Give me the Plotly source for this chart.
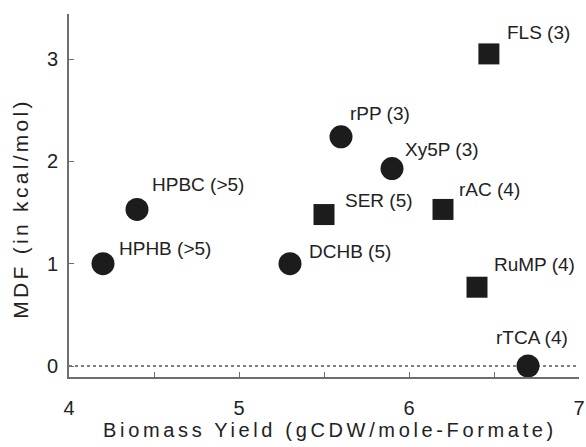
import plotly.graph_objects as go

# ---- data ----
circle_names = ["HPHB (>5)", "HPBC (>5)", "DCHB (5)", "rPP (3)", "Xy5P (3)", "rTCA (4)"]
circle_yield = [4.2, 4.4, 5.3, 5.6, 5.9, 6.7]
circle_mdf = [1.0, 1.53, 1.0, 2.24, 1.93, 0.0]

square_names = ["SER (5)", "rAC (4)", "FLS (3)", "RuMP (4)"]
square_yield = [5.5, 6.2, 6.47, 6.4]
square_mdf = [1.48, 1.53, 3.05, 0.77]

x_ticks = [4, 5, 6, 7]
y_ticks = [0, 1, 2, 3]

# label pixel offsets (left-bottom corner of text relative to marker centre)
circle_label_shift = [(14, 6), (13, 15), (17, 3), (7, 14), (11, 10), (-34, 19)]
square_label_shift = [(19, 5), (14, 10), (16, 12), (15, 13)]

MARK = "#1c1c1c"
TXT = "#222222"
AXC = "#6e6e6e"
FONT = "Liberation Sans, Arial, Helvetica, sans-serif"

fig = go.Figure()

fig.add_trace(go.Scatter(
    x=[x_ticks[0], x_ticks[-1]], y=[0, 0], mode="lines",
    line=dict(color="#000000", width=1, dash="dot"),
    hoverinfo="skip", showlegend=False,
))
fig.add_trace(go.Scatter(
    x=circle_yield, y=circle_mdf, mode="markers",
    marker=dict(symbol="circle", size=23, color=MARK, line=dict(width=0)),
    text=circle_names, showlegend=False,
))
fig.add_trace(go.Scatter(
    x=square_yield, y=square_mdf, mode="markers",
    marker=dict(symbol="square", size=21, color=MARK, line=dict(width=0)),
    text=square_names, showlegend=False,
))

annotations = []
for names, xs, ys, shifts in [
    (circle_names, circle_yield, circle_mdf, circle_label_shift),
    (square_names, square_yield, square_mdf, square_label_shift),
]:
    for n, xv, yv, (dx, dy) in zip(names, xs, ys, shifts):
        annotations.append(dict(
            x=xv, y=yv, xref="x", yref="y", text=n, showarrow=False,
            xanchor="left", yanchor="bottom", xshift=dx, yshift=dy - 3,
            font=dict(family=FONT, size=19, color=TXT),
        ))

axis_common = dict(
    showline=True, linecolor=AXC, linewidth=2,
    showgrid=False, zeroline=False, automargin=False,
    ticks="inside", ticklen=5, tickcolor=AXC, tickwidth=1,
    tickfont=dict(family=FONT, size=20, color=TXT),
)

fig.update_layout(
    width=586, height=447,
    margin=dict(l=69, r=7, t=14, b=70),
    paper_bgcolor="white", plot_bgcolor="white",
    annotations=annotations,
    xaxis=dict(
        range=[4, 7], tickvals=x_ticks,
        minor=dict(dtick=0.5, ticks="inside", ticklen=5, tickcolor=AXC),
        ticklabelstandoff=12,
        title=dict(text="Biomass Yield (gCDW/mole-Formate)",
                   font=dict(family=FONT, size=20, color=TXT), standoff=5),
        **axis_common,
    ),
    yaxis=dict(
        range=[-0.1075, 3.44], tickvals=y_ticks,
        ticklabelstandoff=5,
        title=dict(text="MDF (in kcal/mol)",
                   font=dict(family=FONT, size=21, color=TXT), standoff=13),
        **axis_common,
    ),
)

post = """
document.body.style.margin = '0';
document.body.style.padding = '0';
var gd = document.getElementsByClassName('plotly-graph-div')[0];
function spacing(){
  var xt = gd.querySelector('.xtitle');
  if (xt) { xt.style.letterSpacing = '3.65px'; xt.setAttribute('dx', '6'); }
  var yt = gd.querySelector('.ytitle');
  if (yt) { yt.style.letterSpacing = '3.3px'; yt.setAttribute('dx', '-13'); }
}
spacing();
gd.on('plotly_afterplot', spacing);
"""

fig.write_html("out.html", post_script=post, config={"displayModeBar": False})
